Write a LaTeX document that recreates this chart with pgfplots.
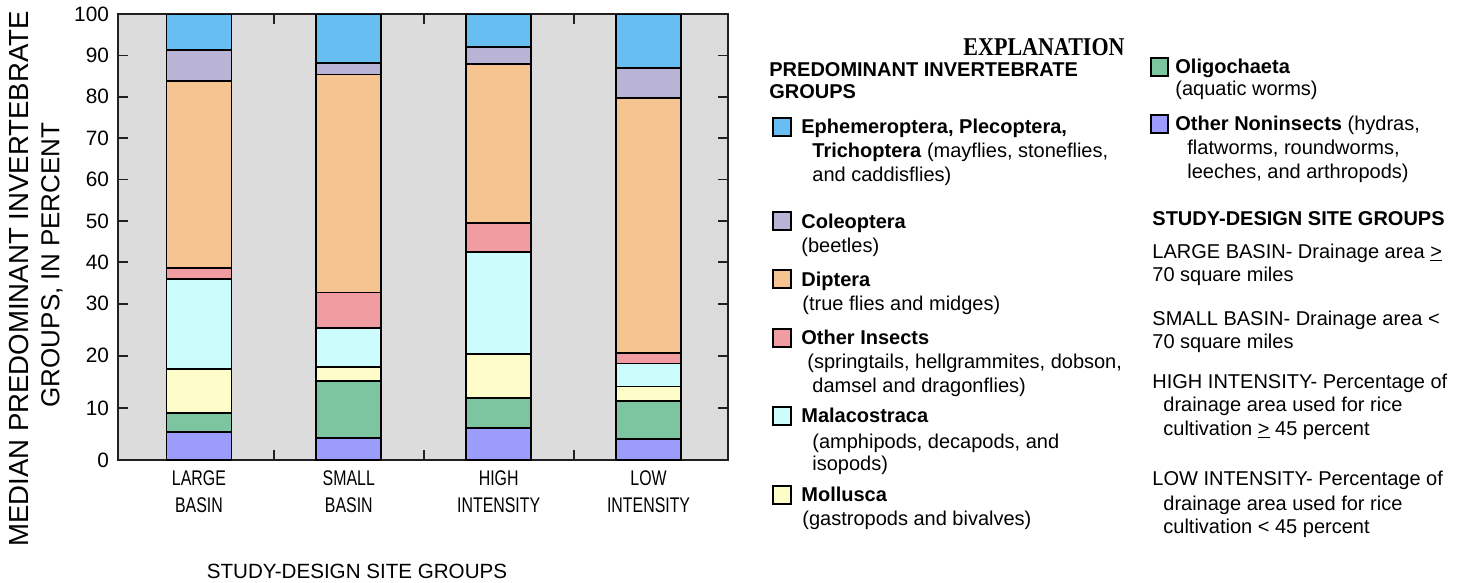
\documentclass[border=0pt]{standalone}
\usepackage{fontspec}
\setmainfont{Liberation Sans}
\newfontfamily\narrowfont[FakeStretch=0.75]{Liberation Sans}
\newfontfamily\timesfont{Liberation Serif}
\usepackage{pgfplots}
\usepackage{pgfplotstable}
\pgfplotsset{compat=1.18}
\definecolor{cEPT}{HTML}{66BEF2}
\definecolor{cCol}{HTML}{B9B3D6}
\definecolor{cDip}{HTML}{F5C490}
\definecolor{cOth}{HTML}{F09CA0}
\definecolor{cMal}{HTML}{CCFCFC}
\definecolor{cMol}{HTML}{FEFCC8}
\definecolor{cOli}{HTML}{7CC5A0}
\definecolor{cNon}{HTML}{9C9CFC}
\definecolor{cBg}{HTML}{DCDCDC}
\definecolor{cAx}{HTML}{231F20}
% cumulative tops of each group (percent)
\pgfplotstableread{
x ept col dip oth mal mol oli non
0 100 91.4 83.8 38.6 36.0 17.5 9.0 5.4
1 100 88.2 85.4 32.7 25.4 17.8 15.1 4.3
2 100 92.0 88.0 49.4 42.5 20.3 11.9 6.2
3 100 87.0 79.8 20.6 18.5 14.1 11.3 4.0
}\cumtable
\begin{document}
\begin{tikzpicture}
\begin{axis}[
  at={(59pt,-229.5pt)}, anchor=south west,
  scale only axis, width=305pt, height=223pt,
  xmin=-0.54, xmax=3.53, ymin=0, ymax=100,
  y coord trafo/.code={\pgfmathparse{#1<30 ? 1.26*#1 : #1+7.8}},
  y coord inv trafo/.code={\pgfmathparse{#1<37.8 ? #1/1.26 : #1-7.8}},
  ytick={0,10,20,30,40,50,60,70,80,90,100},
  yticklabels={0,10,20,30,40,50,60,70,80,90,\raisebox{-4.5pt}{100}},
  yticklabel style={font=\fontsize{10.4}{12}\selectfont, xshift=-1pt},
  xtick={0.5,1.5,2.5}, xticklabels={,,},
  extra x ticks={0,1,2,3},
  extra x tick labels={{LARGE\\BASIN},{SMALL\\BASIN},{HIGH\\INTENSITY},{LOW\\INTENSITY}},
  extra x tick style={major tick length=0pt},
  xticklabel style={align=center, font=\narrowfont\fontsize{10.6}{13.5}\selectfont, yshift=-2pt},
  tick align=inside, major tick length=5pt,
  tick style={cAx, line width=0.9pt},
  axis line style={cAx, line width=1.1pt},
  axis background/.style={fill=cBg},
]
\addplot[ybar, bar width=32.5pt, bar shift=0pt, fill=cEPT, draw=black, line width=0.9pt] table[x=x,y=ept]{\cumtable};
\addplot[ybar, bar width=32.5pt, bar shift=0pt, fill=cCol, draw=black, line width=0.9pt] table[x=x,y=col]{\cumtable};
\addplot[ybar, bar width=32.5pt, bar shift=0pt, fill=cDip, draw=black, line width=0.9pt] table[x=x,y=dip]{\cumtable};
\addplot[ybar, bar width=32.5pt, bar shift=0pt, fill=cOth, draw=black, line width=0.9pt] table[x=x,y=oth]{\cumtable};
\addplot[ybar, bar width=32.5pt, bar shift=0pt, fill=cMal, draw=black, line width=0.9pt] table[x=x,y=mal]{\cumtable};
\addplot[ybar, bar width=32.5pt, bar shift=0pt, fill=cMol, draw=black, line width=0.9pt] table[x=x,y=mol]{\cumtable};
\addplot[ybar, bar width=32.5pt, bar shift=0pt, fill=cOli, draw=black, line width=0.9pt] table[x=x,y=oli]{\cumtable};
\addplot[ybar, bar width=32.5pt, bar shift=0pt, fill=cNon, draw=black, line width=0.9pt] table[x=x,y=non]{\cumtable};
\end{axis}
\begin{scope}[x=0.5pt,y=-0.5pt]
\path (0,0) rectangle (1463,581);
% left-side y ticks crossing the axis line
% axis titles
\node[rotate=90, font=\fontsize{13.8}{15}\selectfont, inner sep=0pt] at (19,278) {MEDIAN PREDOMINANT INVERTEBRATE};
\node[rotate=90, font=\fontsize{13}{15}\selectfont, inner sep=0pt] at (52,264) {GROUPS, IN PERCENT};
\node[font=\fontsize{10.3}{12}\selectfont, inner sep=0pt] at (357,570) {STUDY-DESIGN SITE GROUPS};
% explanation
\node[inner sep=0pt] at (1044,46) {\scalebox{0.86}[1]{\timesfont\bfseries\fontsize{12.8}{14}\selectfont EXPLANATION}};
\tikzset{lt/.style={anchor=base west, inner sep=0pt, font=\fontsize{10}{12}\selectfont},
  sw/.style={draw=black, line width=0.8pt}}
\node[lt] at (769,75) {\textbf{PREDOMINANT INVERTEBRATE}};
\node[lt] at (769,97) {\textbf{GROUPS}};
\filldraw[sw, fill=cEPT] (773,117) rectangle (791,135);
\node[lt] at (801,132) {\textbf{Ephemeroptera, Plecoptera,}};
\node[lt] at (812,156) {\textbf{Trichoptera} (mayflies, stoneflies,};
\node[lt] at (812,180) {and caddisflies)};
\filldraw[sw, fill=cCol] (773,211) rectangle (791,229);
\node[lt] at (801,227) {\textbf{Coleoptera}};
\node[lt] at (801,251) {(beetles)};
\filldraw[sw, fill=cDip] (773,269) rectangle (791,287);
\node[lt] at (801,285) {\textbf{Diptera}};
\node[lt] at (802,309) {(true flies and midges)};
\filldraw[sw, fill=cOth] (773,328) rectangle (791,346);
\node[lt] at (801,343) {\textbf{Other Insects}};
\node[lt] at (807,367) {(springtails, hellgrammites, dobson,};
\node[lt] at (812,391) {damsel and dragonflies)};
\filldraw[sw, fill=cMal] (773,406) rectangle (791,424);
\node[lt] at (801,421) {\textbf{Malacostraca}};
\node[lt] at (812,447) {(amphipods, decapods, and};
\node[lt] at (812,469) {isopods)};
\filldraw[sw, fill=cMol] (773,485) rectangle (791,503);
\node[lt] at (801,500) {\textbf{Mollusca}};
\node[lt] at (802,524) {(gastropods and bivalves)};
% column 2
\filldraw[sw, fill=cOli] (1151,57) rectangle (1168,75);
\node[lt] at (1175,72) {\textbf{Oligochaeta}};
\node[lt] at (1175,94) {(aquatic worms)};
\filldraw[sw, fill=cNon] (1151,114) rectangle (1168,132);
\node[lt] at (1175,129) {\textbf{Other Noninsects} (hydras,};
\node[lt] at (1187,153) {flatworms, roundworms,};
\node[lt] at (1187,177) {leeches, and arthropods)};
\node[lt] at (1152,224) {\textbf{STUDY-DESIGN SITE GROUPS}};
\node[lt] at (1152,257) {LARGE BASIN- Drainage area \underline{>}};
\node[lt] at (1152,280) {70 square miles};
\node[lt] at (1152,324) {SMALL BASIN- Drainage area <};
\node[lt] at (1152,347) {70 square miles};
\node[lt] at (1152,387) {HIGH INTENSITY- Percentage of};
\node[lt] at (1163,410) {drainage area used for rice};
\node[lt] at (1163,434) {cultivation \underline{>} 45 percent};
\node[lt] at (1152,484) {LOW INTENSITY- Percentage of};
\node[lt] at (1163,509) {drainage area used for rice};
\node[lt] at (1163,532) {cultivation < 45 percent};
\end{scope}
\end{tikzpicture}
\end{document}
